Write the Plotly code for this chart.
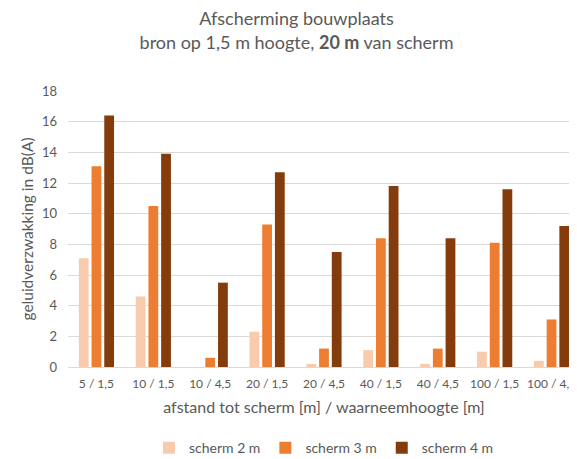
import plotly.graph_objects as go

categories = ["5 / 1,5", "10 / 1,5", "10 / 4,5", "20 / 1,5", "20 / 4,5",
              "40 / 1,5", "40 / 4,5", "100 / 1,5", "100 / 4,5"]
scherm_2m = [7.1, 4.6, 0.0, 2.3, 0.2, 1.1, 0.2, 1.0, 0.4]
scherm_3m = [13.1, 10.5, 0.6, 9.3, 1.2, 8.4, 1.2, 8.1, 3.1]
scherm_4m = [16.4, 13.9, 5.5, 12.7, 7.5, 11.8, 8.4, 11.6, 9.2]
series_names = ["scherm 2 m", "scherm 3 m", "scherm 4 m"]
colors = ["#F8CBAD", "#ED7D31", "#843C0C"]

FONT = "Lato"
GRAY = "#595959"

fig = go.Figure()
for name, vals, col in zip(series_names, [scherm_2m, scherm_3m, scherm_4m], colors):
    fig.add_trace(go.Bar(x=categories, y=vals, name=name, marker_color=col,
                         marker_line_width=0))

fig.update_layout(
    width=577, height=459,
    margin=dict(l=60, r=5, t=83, b=100, autoexpand=False),
    paper_bgcolor="white", plot_bgcolor="white",
    barmode="group", bargap=0.33, bargroupgap=0.23,
    font=dict(family=FONT, color=GRAY, size=13),
    title=dict(text="Afscherming bouwplaats<br>bron op 1,5 m hoogte, <b>20 m</b> van scherm",
               x=0.5, xanchor="center", y=0.962, yanchor="top",
               font=dict(family=FONT, size=18, color=GRAY)),
    xaxis=dict(showgrid=False, ticks="", showline=True, linecolor="#D9D9D9", linewidth=1,
               automargin=False,
               tickfont=dict(size=12, color=GRAY), ticklabelstandoff=6,
               title=dict(text="afstand tot scherm [m] / waarneemhoogte [m]",
                          font=dict(size=16, color=GRAY), standoff=11)),
    yaxis=dict(range=[0, 18], dtick=2, showgrid=True, gridcolor="#D9D9D9", gridwidth=1,
               zeroline=False, ticks="", tickfont=dict(size=13, color=GRAY),
               ticklabelstandoff=10, automargin=False,
               title=dict(text="geluidverzwakking in dB(A)", font=dict(size=15.5, color=GRAY),
                          standoff=4)),
    legend=dict(orientation="h", x=0.5, xanchor="center", y=-0.236, yanchor="top",
                font=dict(size=14, color=GRAY), traceorder="normal",
                itemwidth=30),
)

fig.write_html("out.html")
